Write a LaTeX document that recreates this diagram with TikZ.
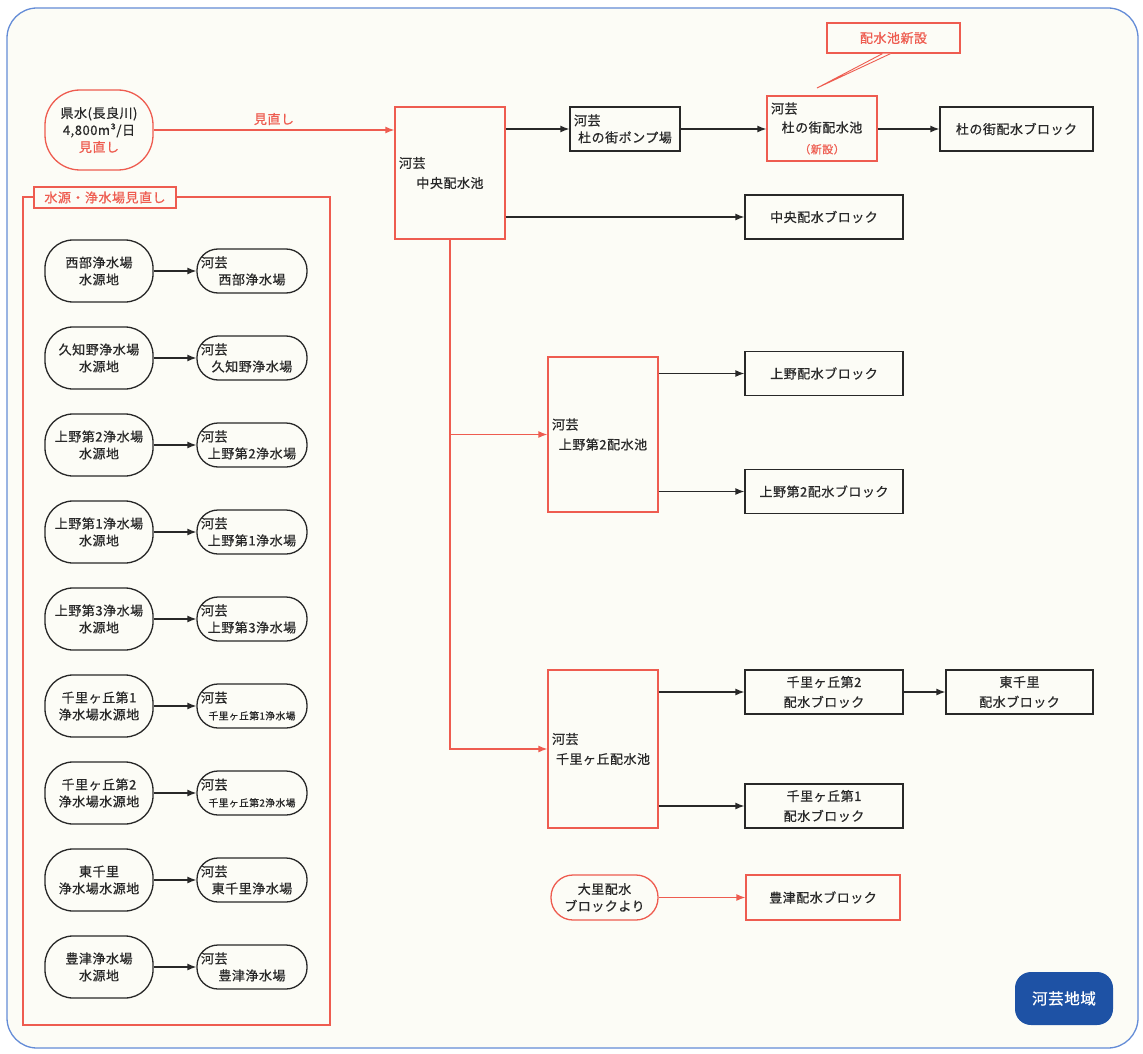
\documentclass[tikz,border=0pt]{standalone}
\usepackage{fontspec}
\setmainfont{Noto Sans CJK JP}[LetterSpace=4,FakeBold=0.7]
\usepackage{xcolor}
\usepackage{tikz}
\usetikzlibrary{
  arrows.meta,
  positioning,
  calc
}
\definecolor{inkgray}{RGB}{40,40,40}
\definecolor{planred}{RGB}{238,92,80}
\definecolor{frameblue}{RGB}{100,140,215}
\definecolor{badgeblue}{RGB}{30,82,165}
\definecolor{paper}{RGB}{252,252,246}
\newcommand{\kawage}{\makebox[\linewidth][l]{河芸}}
\tikzset{
  basenode/.style={
    draw=inkgray,
    line width=1.3pt,
    text=inkgray,
    inner sep=3pt,
    font=\fontsize{13}{17}\selectfont
  },
  srcnode/.style={basenode,rounded corners=28pt,align=center,minimum width=108,minimum height=62},
  plantnode/.style={basenode,rounded corners=21pt,align=center,text width=102pt,minimum width=110,minimum height=44},
  blockbox/.style={basenode,align=center,minimum height=44,font=\fontsize{13}{20}\selectfont},
  poolbox/.style={basenode,draw=planred,align=center,text width=102pt,minimum width=110,font=\fontsize{13}{20}\selectfont},
  notebox/.style={basenode,draw=planred,text=planred,fill=paper,inner sep=1pt},
  badge/.style={fill=badgeblue,text=white,rounded corners=16pt,minimum width=98,minimum height=53,font=\fontsize{15.5}{18}\selectfont},
  flowarrow/.style={-{Latex[length=9pt,width=7pt]},line width=1.3pt,draw=inkgray},
  redarrow/.style={-{Latex[length=9pt,width=7pt]},line width=1.3pt,draw=planred}
}

\begin{document}
\begin{tikzpicture}[x=1pt,y=-1pt]
  \useasboundingbox (0,0) rectangle (1143,1054);
  \fill[white] (0,0) rectangle (1143,1054);
  \draw[frameblue,line width=1.3pt,fill=paper,rounded corners=30pt] (7,8) rectangle (1138,1048);

  % prefectural supply
  \node[basenode,draw=planred,rounded corners=35pt,align=center,minimum width=108,minimum height=80] (kensui) at (99,130)
    {県水(長良川)\\4,800m³/日\\{\color{planred}見直し}};

  % central pool and its outflows
  \node[poolbox,minimum height=132] (chuo) at (450,173) {\kawage\\中央配水池};
  \node[basenode,align=center,text width=102pt,minimum width=110,minimum height=44] (pump) at (625,129) {\kawage\\杜の街ポンプ場};
  \node[poolbox,minimum height=65,font=\fontsize{13}{19}\selectfont] (morinopool) at (822,128.5)
    {\kawage\\杜の街配水池\\[2pt]{\color{planred}\fontsize{11}{13}\selectfont（新設）}};
  \node[blockbox,minimum width=153] (morinoblk) at (1016.5,129) {杜の街配水ブロック};
  \node[blockbox,minimum width=158] (chuoblk) at (824,217) {中央配水ブロック};

  \node[notebox,minimum width=133,minimum height=30] (newnote) at (893.5,38) {配水池新設};
  \coordinate (notetip) at (817,88);
  \draw[planred,line width=0.9pt,fill=paper] ($(newnote.south)+(-11,0)$) -- (notetip) -- ($(newnote.south)+(-3,0)$);

  \draw[redarrow] (kensui.east) -- (kensui.east -| chuo.west)
    node[midway,above=1pt,text=planred,font=\fontsize{13}{17}\selectfont] (reviewlab) {見直し};
  \draw[flowarrow] (chuo.east |- pump.west) -- (pump.west);
  \draw[flowarrow] (pump.east) -- (pump.east -| morinopool.west);
  \draw[flowarrow] (morinopool.east |- morinoblk.west) -- (morinoblk.west);
  \draw[flowarrow] (chuo.east |- chuoblk.west) -- (chuoblk.west);

  % ueno and senrigaoka pools
  \node[poolbox,minimum height=155] (uenopool) at (603,434.5) {\kawage\\上野第2配水池};
  \node[blockbox,minimum width=158] (uenoblk) at (824,373.5) {上野配水ブロック};
  \node[blockbox,minimum width=158] (ueno2blk) at (824,491.5) {上野第2配水ブロック};

  \node[poolbox,minimum height=158] (senripool) at (603,749) {\kawage\\千里ヶ丘配水池};
  \node[blockbox,minimum width=158] (senri2blk) at (824,692) {千里ヶ丘第2\\配水ブロック};
  \node[blockbox,minimum width=158] (senri1blk) at (824,806) {千里ヶ丘第1\\配水ブロック};
  \node[blockbox,minimum width=147] (higashiblk) at (1019.5,692) {東千里\\配水ブロック};

  \draw[redarrow] (chuo.south) |- (senripool.west);
  \draw[redarrow] (chuo.south |- uenopool.west) -- (uenopool.west);
  \draw[flowarrow] (uenopool.east |- uenoblk.west) -- (uenoblk.west);
  \draw[flowarrow] (uenopool.east |- ueno2blk.west) -- (ueno2blk.west);
  \draw[flowarrow] (senripool.east |- senri2blk.west) -- (senri2blk.west);
  \draw[flowarrow] (senripool.east |- senri1blk.west) -- (senri1blk.west);
  \draw[flowarrow] (senri2blk) -- (higashiblk);

  % supply from oosato
  \node[basenode,draw=planred,rounded corners=22pt,align=center,minimum width=107,minimum height=45] (oosato) at (604.5,897.5) {大里配水\\ブロックより};
  \node[blockbox,draw=planred,minimum width=154,minimum height=45] (toyotsublk) at (823,897.5) {豊津配水ブロック};
  \draw[redarrow] (oosato) -- (toyotsublk);

  % sources and purification plants
  \draw[planred,line width=1.3pt] (23,197) rectangle (330,1025);
  \node[notebox,minimum width=142,minimum height=21] (reviewnote) at (105,197.5) {水源・浄水場見直し};
  \foreach \i/\src/\plant in {
      1/{西部浄水場\\水源地}/{西部浄水場},
      2/{久知野浄水場\\水源地}/{久知野浄水場},
      3/{上野第2浄水場\\水源地}/{上野第2浄水場},
      4/{上野第1浄水場\\水源地}/{上野第1浄水場},
      5/{上野第3浄水場\\水源地}/{上野第3浄水場},
      6/{千里ヶ丘第1\\浄水場水源地}/{{\fontsize{9.8}{12}\selectfont 千里ヶ丘第1浄水場}},
      7/{千里ヶ丘第2\\浄水場水源地}/{{\fontsize{9.8}{12}\selectfont 千里ヶ丘第2浄水場}},
      8/{東千里\\浄水場水源地}/{東千里浄水場},
      9/{豊津浄水場\\水源地}/{豊津浄水場}}
  {
    \pgfmathsetmacro\rowy{271+87*(\i-1)}
    \node[srcnode] (src\i) at (99,\rowy) {\src};
    \node[plantnode] (plant\i) at (252,\rowy) {\kawage\\\plant};
    \draw[flowarrow] (src\i) -- (plant\i);
  }

  \node[badge] (area) at (1064,998.5) {河芸地域};
\end{tikzpicture}
\end{document}
